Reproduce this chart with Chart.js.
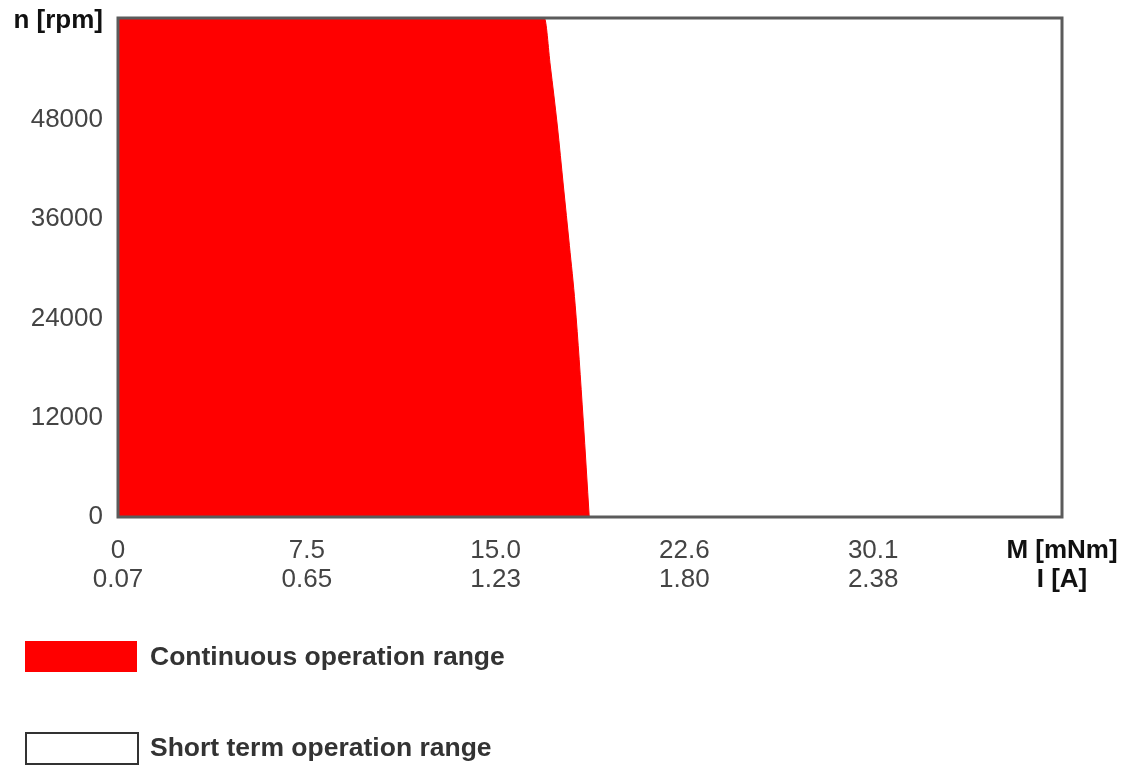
<!DOCTYPE html>
<html>
<head>
<meta charset="utf-8">
<title>Operating range</title>
<script src="https://cdn.jsdelivr.net/npm/chart.js@4/dist/chart.umd.min.js"></script>
<style>
    body { margin: 0; background: #fff; }
    #wrap { width: 1123px; height: 767px; position: relative; }
</style>
</head>
<body>
<div id="wrap"><canvas id="rangeChart"></canvas></div>
<script>
// axis ticks (torque + matching current on the same positions)
const torqueTicks = [0, 7.52, 15.04, 22.56, 30.08, 37.6];
const torqueLabels = ['0', '7.5', '15.0', '22.6', '30.1', 'M [mNm]'];
const currentLabels = ['0.07', '0.65', '1.23', '1.80', '2.38', 'I [A]'];
const speedTicks = [0, 12000, 24000, 36000, 48000, 60000];
const speedLabels = ['0', '12000', '24000', '36000', '48000', 'n [rpm]'];
const speedMax = 60300;

// limit of the continuous operation range
const limitTorque = [0, 16.98, 17.22, 17.5, 17.74, 17.98, 18.21, 18.53, 18.77];
const limitSpeed = [60300, 60300, 54500, 47250, 40000, 32800, 25600, 11700, 0];

// short term range covers the whole diagram
const shortTorque = [0, 37.6];
const shortSpeed = [60300, 60300];

const FONT = '"Liberation Sans", Arial, sans-serif';

function toPoints(xs, ys) {
    return xs.map((x, i) => ({ x: x, y: ys[i] }));
}

const framePlugin = {
    id: 'frame',
    afterDatasetsDraw(chart) {
        const a = chart.chartArea;
        const ctx = chart.ctx;
        ctx.save();
        ctx.strokeStyle = '#5b5b5b';
        ctx.lineWidth = 3;
        ctx.strokeRect(a.left, a.top, a.right - a.left, a.bottom - a.top);
        ctx.restore();
    }
};

const legendPlugin = {
    id: 'sideLegend',
    afterDraw(chart) {
        const ctx = chart.ctx;
        const rows = [657, 748];
        ctx.save();
        chart.data.datasets.forEach((ds, i) => {
            const y = rows[i];
            ctx.fillStyle = ds.legendFill;
            ctx.fillRect(25, y - 16, 112, 31);
            if (ds.legendStroke) {
                ctx.strokeStyle = ds.legendStroke;
                ctx.lineWidth = 2;
                ctx.strokeRect(26, y - 15, 112, 31);
            }
            ctx.fillStyle = '#333';
            ctx.font = 'bold 26.5px ' + FONT;
            ctx.textBaseline = 'middle';
            ctx.fillText(ds.label, 150, y + 1);
        });
        ctx.restore();
    }
};

const lastIdx = torqueTicks.length - 1;

const ctx = document.getElementById('rangeChart').getContext('2d');
const rangeChart = new Chart(ctx, {
    type: 'scatter',
    data: {
        datasets: [{
            label: 'Continuous operation range',
            data: toPoints(limitTorque, limitSpeed),
            showLine: true,
            fill: 'origin',
            backgroundColor: '#ff0000',
            borderColor: '#ff0000',
            borderWidth: 1,
            pointRadius: 0,
            cubicInterpolationMode: 'monotone',
            order: 1,
            legendFill: '#ff0000'
        }, {
            label: 'Short term operation range',
            data: toPoints(shortTorque, shortSpeed),
            showLine: true,
            fill: 'origin',
            backgroundColor: '#ffffff',
            borderColor: '#ffffff',
            borderWidth: 0,
            pointRadius: 0,
            order: 2,
            legendFill: '#ffffff',
            legendStroke: '#333'
        }]
    },
    options: {
        responsive: true,
        maintainAspectRatio: false,
        animation: false,
        layout: {
            padding: { left: 0, top: 18, right: 61, bottom: 160 }
        },
        plugins: {
            legend: { display: false },
            tooltip: { enabled: false }
        },
        scales: {
            x: {
                type: 'linear',
                min: 0,
                max: 37.6,
                grid: { display: false, drawTicks: false, tickLength: 0 },
                border: { display: false },
                afterBuildTicks: (scale) => {
                    scale.ticks = torqueTicks.map(v => ({ value: v }));
                },
                afterFit: (scale) => {
                    scale.height = 90;
                    scale.paddingLeft = 0;
                    scale.paddingRight = 0;
                },
                ticks: {
                    autoSkip: false,
                    maxRotation: 0,
                    padding: 19,
                    color: (c) => c.index === lastIdx ? '#111' : '#444',
                    font: (c) => ({
                        family: FONT,
                        size: 26,
                        weight: c.index === lastIdx ? 'bold' : 'normal',
                        lineHeight: 1.12
                    }),
                    callback: (value, index) => [torqueLabels[index], currentLabels[index]]
                }
            },
            y: {
                type: 'linear',
                min: 0,
                max: speedMax,
                grid: { display: false, drawTicks: false, tickLength: 0 },
                border: { display: false },
                afterBuildTicks: (scale) => {
                    scale.ticks = speedTicks.map(v => ({ value: v }));
                },
                afterFit: (scale) => {
                    scale.width = 118;
                    scale.paddingTop = 0;
                    scale.paddingBottom = 0;
                },
                ticks: {
                    autoSkip: false,
                    padding: 15,
                    color: (c) => c.index === speedTicks.length - 1 ? '#111' : '#444',
                    font: (c) => ({
                        family: FONT,
                        size: 26,
                        weight: c.index === speedTicks.length - 1 ? 'bold' : 'normal'
                    }),
                    callback: (value, index) => speedLabels[index]
                }
            }
        }
    },
    plugins: [framePlugin, legendPlugin]
});
</script>
</body>
</html>
